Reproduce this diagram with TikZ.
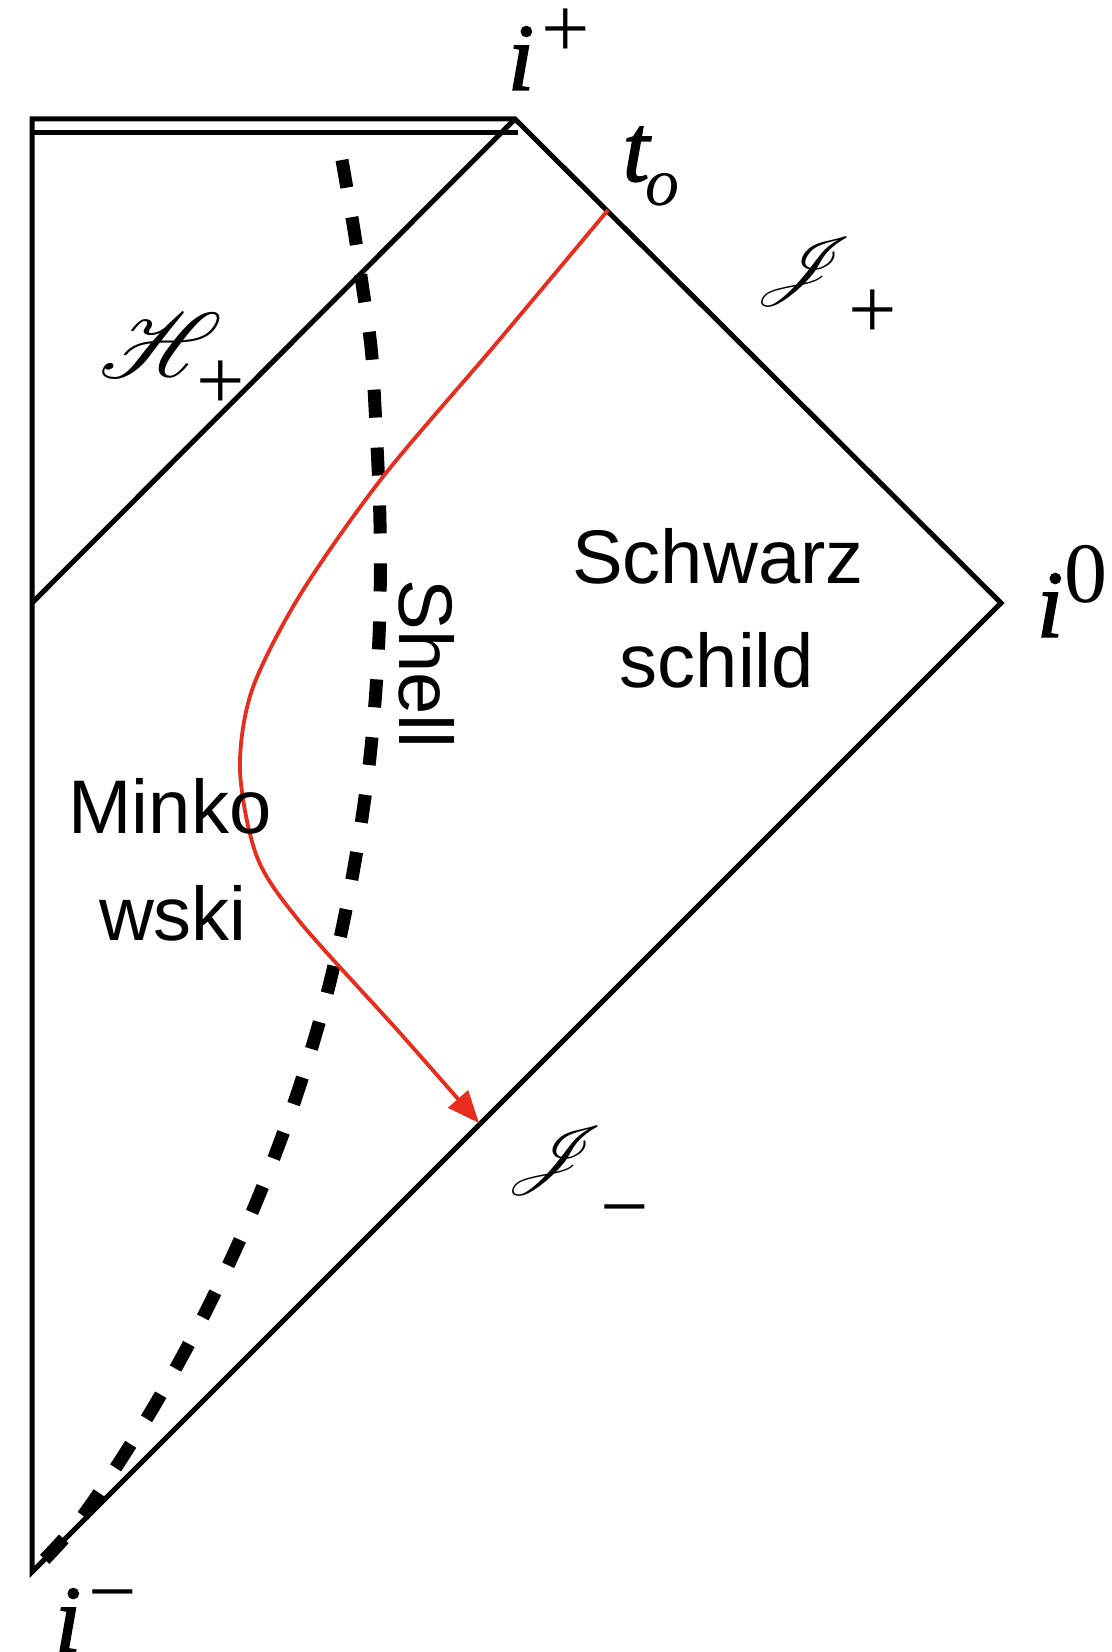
\documentclass[tikz,border=0pt]{standalone}
\usepackage{fontspec}
\setmainfont{Liberation Sans}
\newfontfamily\tms{Liberation Serif}
\newfontface\heavyit{Liberation Serif Italic}[FakeBold=1.5]
\usepackage{graphicx}
\usepackage{mathrsfs}
\usetikzlibrary{arrows.meta}
\definecolor{trajred}{RGB}{232,45,30}
\newcommand{\scrH}{\scalebox{1.95}[1.85]{$\mathscr{H}$}}
\newcommand{\scrJ}{\scalebox{1.65}[1.4]{$\mathscr{J}$}}
\begin{document}
\begin{tikzpicture}[x=0.5pt,y=-0.5pt,
  edge/.style={line width=2.5pt, line join=miter},
  shellline/.style={line width=6.5pt, dash pattern=on 14pt off 15pt},
  traj/.style={trajred, line width=1.9pt},
  region/.style={font=\fontsize{38}{38}\selectfont, inner sep=0pt, anchor=base},
  bigital/.style={font=\fontsize{48}{48}\selectfont\heavyit, inner sep=0pt, anchor=base},
  supsym/.style={font=\fontsize{43}{43}\selectfont\tms, inner sep=0pt, anchor=base},
  subo/.style={font=\fontsize{34}{34}\selectfont\tms\itshape, inner sep=0pt, anchor=base},
  scriptl/.style={font=\fontsize{24.88}{25}\selectfont, inner sep=0pt, anchor=base}
]
\useasboundingbox (0,0) rectangle (1112,1652);

% key points
\coordinate (tl) at (32,119);
\coordinate (ip) at (515,119);
\coordinate (iz) at (1001,603);
\coordinate (im) at (32,1572);
\coordinate (hl) at (32,603);
\coordinate (dl) at (32,133);
\coordinate (dr) at (518,133);
\coordinate (to) at (608,210);
\coordinate (tip) at (479,1123);
\coordinate (shtop) at (342,160);

% outline
\draw[edge] (tl) -- (ip) -- (iz) -- (im) -- cycle;
\draw[edge] (dl) -- (dr);
\draw[edge] (hl) -- (ip);

% shell
\draw[shellline] plot[smooth, tension=0.55] coordinates {(shtop) (354,230) (363,290) (371,347) (375,407) (380,523) (379,637) (370,757) (353,873) (328,990) (295,1100) (253,1210) (203,1317) (147,1418) (82,1517) (im)};

% trajectory
\draw[traj, -{Triangle[length=16pt,width=13pt]}] plot[smooth, tension=0.5] coordinates {(to) (495,345) (382,478) (300,595) (252,690) (240,770) (257,857) (300,922) (400,1033) (tip)};

% labels
\node[bigital] (lip) at (521,90) {i};
\node[supsym] (lipp) at (566,58) {+};
\node[bigital] (lt) at (636,181) {t};
\node[subo] (lto) at (662,206) {o};
\node[bigital] (liz) at (1050,637) {i};
\node[supsym] (lizz) at (1086,602) {0};
\node[bigital] (lim) at (68,1652) {i};
\node[supsym] (limm) at (113,1620) {−};

\node[scriptl] (lH) at (161,378) {\scrH};
\node[supsym] (lHp) at (221,410) {+};
\node[scriptl] (lJp) at (805,287) {\scrJ};
\node[supsym] (lJpp) at (873,339) {+};
\node[scriptl] (lJm) at (556,1175) {\scrJ};
\node[supsym] (lJmm) at (625,1235) {−};

\node[region] (sw1) at (718,583) {Schwarz};
\node[region] (sw2) at (717,687) {schild};
\node[region] (mk1) at (170,833) {Minko};
\node[region] (mk2) at (173,940) {wski};
\node[region, rotate=-90] (shl) at (399,664) {Shell};
\end{tikzpicture}
\end{document}
